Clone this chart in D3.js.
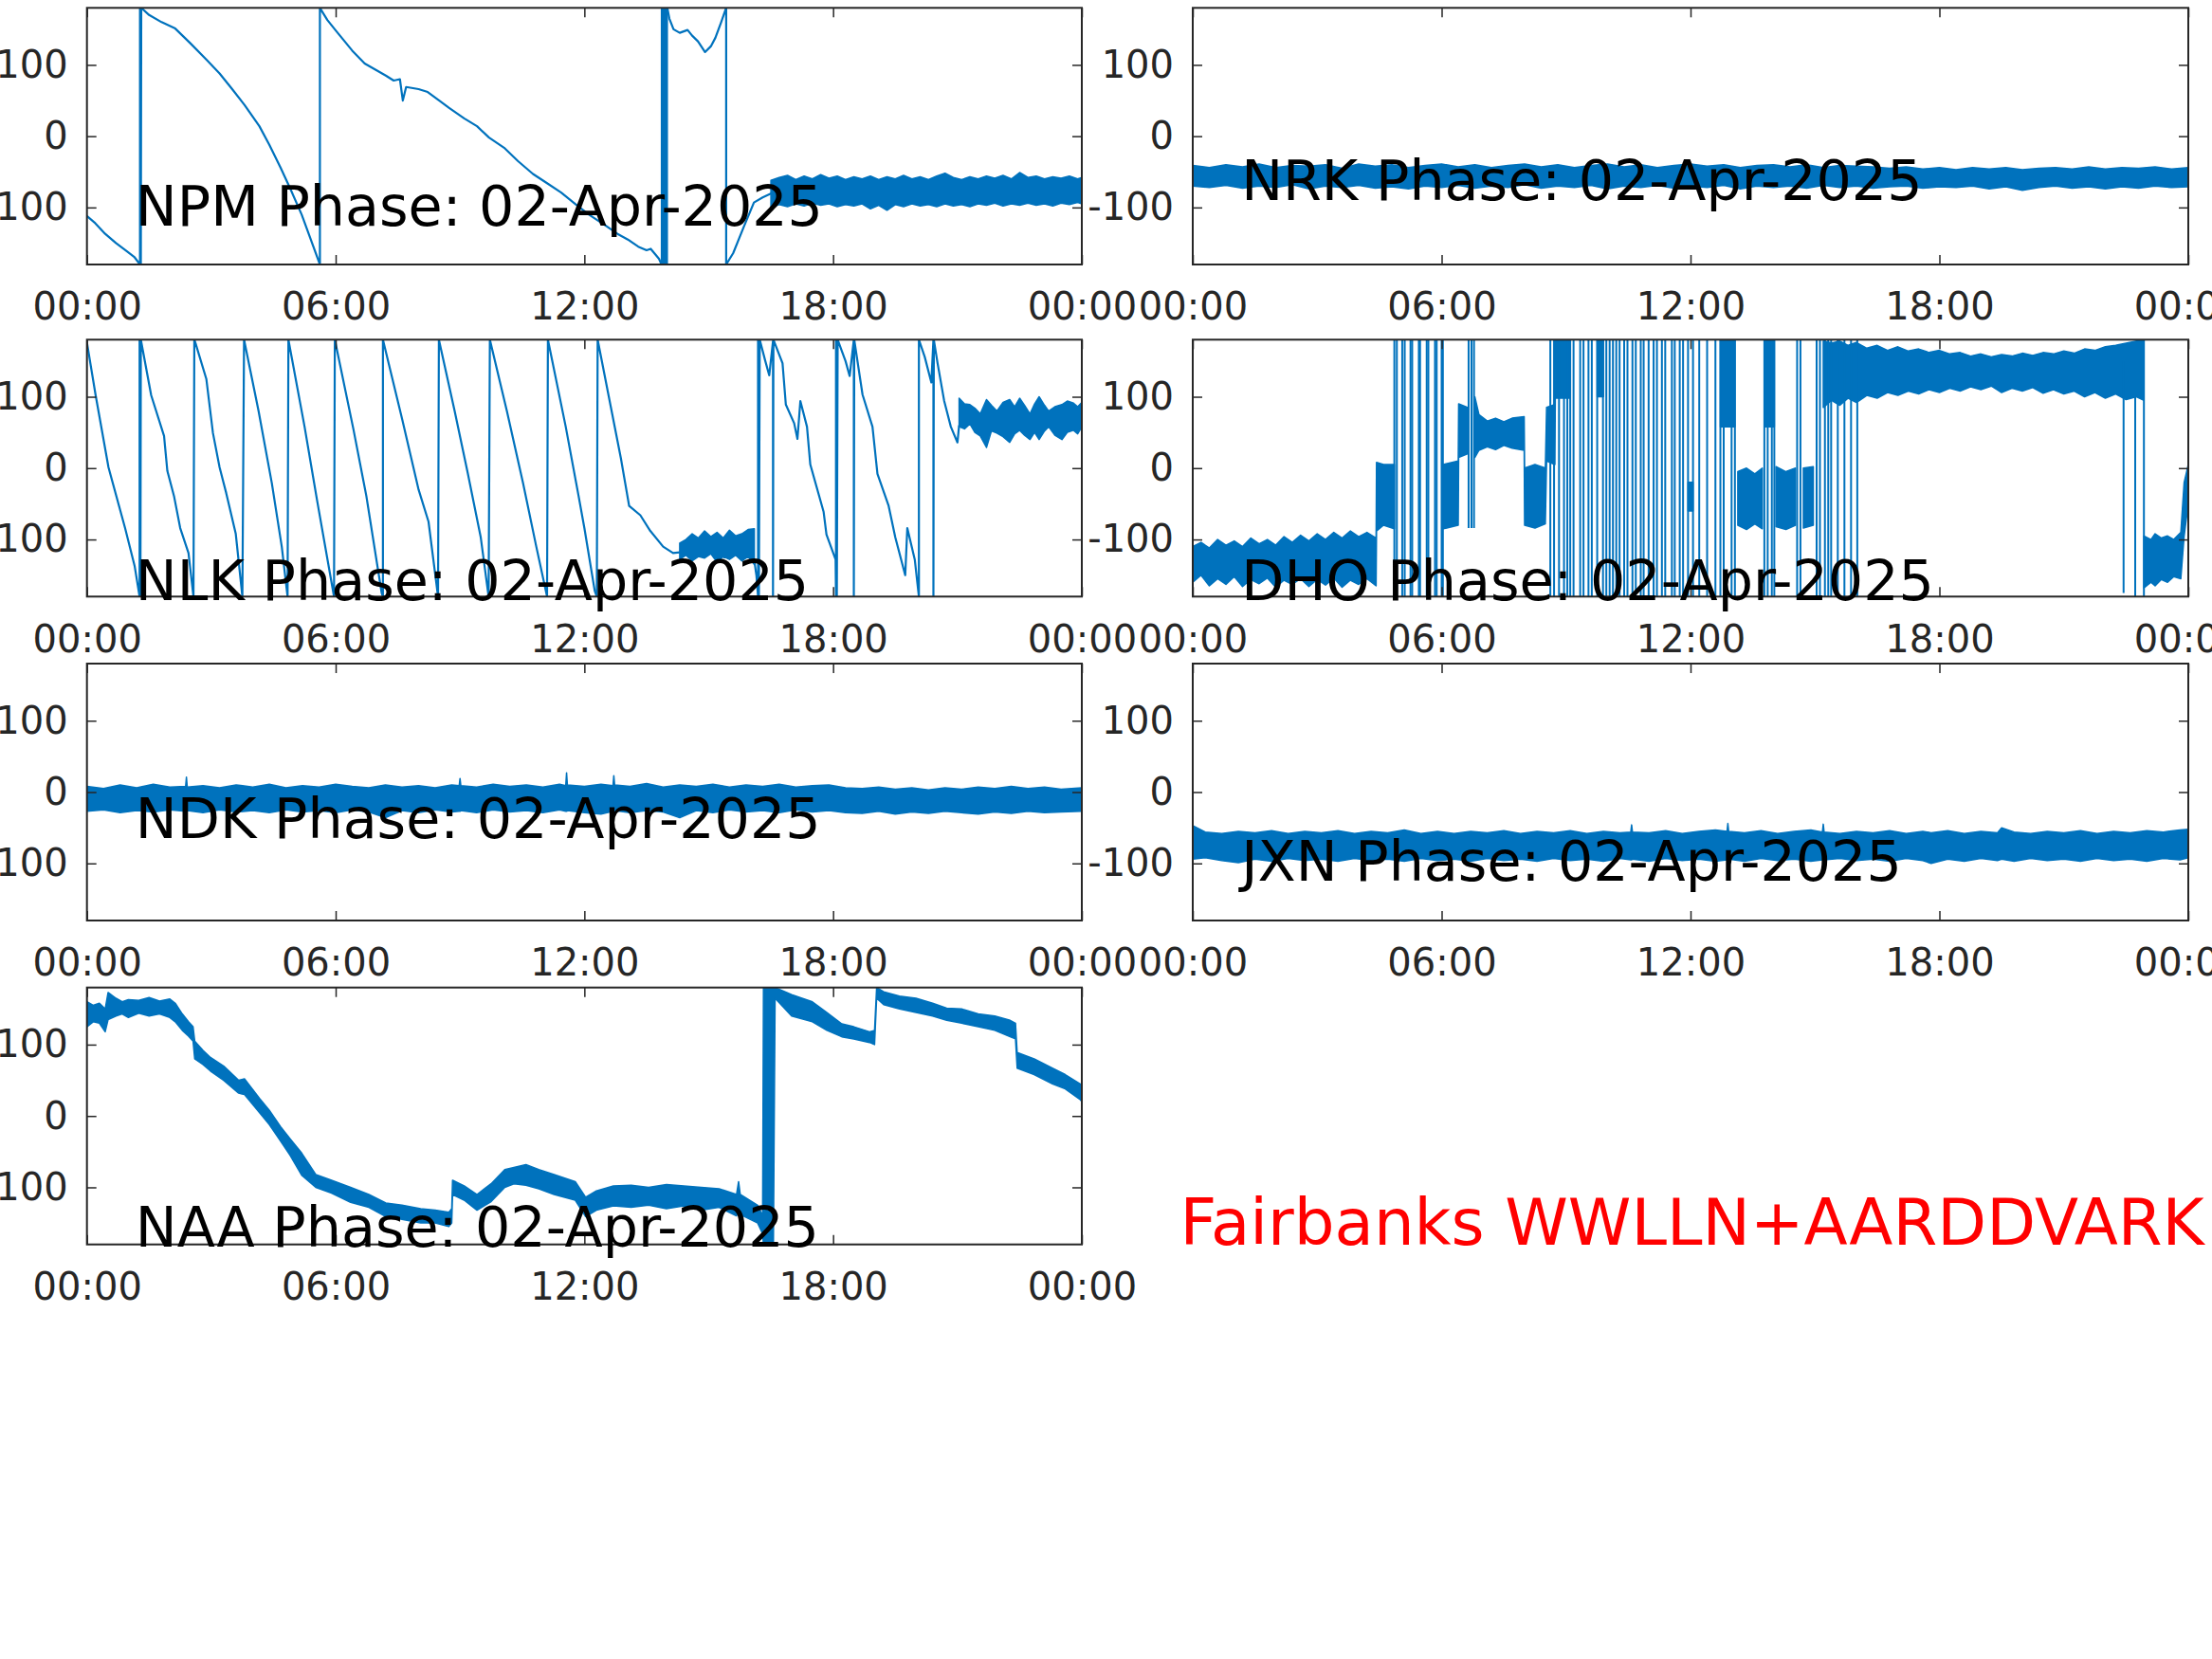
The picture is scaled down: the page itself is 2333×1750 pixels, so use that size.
<!DOCTYPE html>
<html><head><meta charset="utf-8">
<script src="https://cdn.jsdelivr.net/npm/d3@7"></script>
<style>body{margin:0;background:#fff}svg{display:block}</style></head>
<body>
<svg id="chart" width="2333" height="1750"></svg>
<script>
// ---------------- data (hours of day, phase in degrees) ----------------
const hourTicks = [0, 6, 12, 18, 24];
const hourTickLabels = ["00:00", "06:00", "12:00", "18:00", "00:00"];
const phaseTicks = [-100, 0, 100];
const phaseTickLabels = ["-100", "0", "100"];
const dateLabel = "02-Apr-2025";
const stations = ["NPM", "NRK", "NLK", "DHO", "NDK", "JXN", "NAA"];
const footerText = "Fairbanks WWLLN+AARDDVARK";

// NPM
const npmLineA = [[0,-112],[0.2,-122],[0.44,-137],[0.7,-150],[0.95,-161],[1.15,-170],[1.28,-180],[1.28,180],[1.3,-180],[1.31,180],[1.5,170],[1.8,160],[2.13,151],[2.5,130],[2.89,107],[3.2,88],[3.49,67],[3.8,44],[4.16,14],[4.4,-12],[4.67,-44],[4.9,-73],[5.18,-110],[5.4,-145],[5.62,-180],[5.62,180],[5.8,163],[6.02,147],[6.4,120],[6.7,102],[7.0,92],[7.21,85],[7.4,78],[7.55,80],[7.62,50],[7.7,69],[8.0,66],[8.22,62],[8.5,50],[8.73,40],[9.1,25],[9.41,14],[9.7,-2],[10.08,-17],[10.4,-35],[10.76,-53],[11.1,-66],[11.44,-79],[11.8,-96],[12.11,-110],[12.5,-125],[12.8,-137],[13.05,-145],[13.3,-155],[13.5,-160],[13.6,-158],[13.8,-172],[13.86,-180]];
const npmBlock = [[13.86,-180,180],[14.0,-180,180]];
const npmLineB = [[14.0,180],[14.05,165],[14.15,150],[14.3,145],[14.49,149],[14.6,141],[14.74,133],[14.91,118],[15.05,126],[15.16,138],[15.3,160],[15.42,180],[15.42,-180],[15.59,-164],[15.84,-128],[16.09,-93],[16.3,-86],[16.52,-80]];
const npmBand = [[16.5,-100,-62],[16.7,-96,-58],[16.9,-99,-55],[17.1,-95,-61],[17.3,-98,-56],[17.5,-94,-60],[17.7,-97,-54],[17.9,-95,-59],[18.1,-99,-56],[18.3,-96,-61],[18.5,-98,-57],[18.7,-95,-60],[18.9,-102,-56],[19.1,-97,-61],[19.3,-104,-57],[19.5,-96,-60],[19.7,-99,-55],[19.9,-95,-60],[20.1,-98,-57],[20.3,-96,-61],[20.5,-99,-56],[20.7,-95,-52],[20.9,-98,-58],[21.1,-96,-61],[21.3,-99,-57],[21.5,-95,-60],[21.7,-97,-56],[21.9,-94,-59],[22.1,-98,-55],[22.3,-95,-60],[22.5,-97,-51],[22.7,-94,-58],[22.9,-97,-56],[23.1,-95,-60],[23.3,-98,-57],[23.5,-94,-59],[23.7,-96,-56],[23.9,-93,-60],[24,-95,-58]];

// NRK
const nrkBand = [[0,-70,-41],[0.4,-72,-44],[0.8,-69,-40],[1.2,-73,-43],[1.6,-70,-39],[2.0,-72,-44],[2.4,-68,-41],[2.8,-74,-42],[3.2,-70,-40],[3.6,-72,-45],[4.0,-69,-39],[4.4,-73,-42],[4.8,-71,-40],[5.2,-74,-44],[5.6,-70,-41],[6.0,-72,-39],[6.4,-69,-43],[6.8,-73,-40],[7.2,-70,-44],[7.6,-72,-41],[8.0,-68,-39],[8.4,-73,-43],[8.8,-70,-40],[9.2,-72,-44],[9.6,-69,-41],[10.0,-74,-39],[10.4,-70,-43],[10.8,-72,-40],[11.2,-69,-44],[11.6,-73,-41],[12.0,-70,-39],[12.4,-72,-42],[12.8,-69,-40],[13.2,-74,-44],[13.6,-70,-41],[14.0,-72,-40],[14.4,-70,-43],[14.8,-73,-40],[15.2,-69,-44],[15.6,-72,-41],[16.0,-70,-42],[16.4,-73,-43],[16.8,-71,-45],[17.2,-70,-43],[17.6,-73,-46],[18.0,-71,-44],[18.4,-72,-47],[18.8,-70,-44],[19.2,-74,-46],[19.6,-71,-44],[20.0,-76,-47],[20.4,-72,-45],[20.8,-70,-44],[21.2,-73,-46],[21.6,-71,-43],[22.0,-74,-46],[22.4,-71,-44],[22.8,-73,-45],[23.2,-70,-43],[23.6,-72,-46],[24,-71,-44]];

// NLK
const nlkLineA = [[0,176],[0.21,102],[0.52,1],[0.92,-84],[1.15,-137],[1.27,-180],[1.27,180],[1.29,-180],[1.3,180],[1.55,102],[1.86,45],[1.94,-4],[2.1,-39],[2.25,-84],[2.45,-119],[2.57,-180],[2.59,180],[2.62,175],[2.88,125],[3.04,49],[3.2,1],[3.36,-35],[3.59,-92],[3.75,-180],[3.79,180],[4.14,80],[4.46,-21],[4.7,-110],[4.84,-180],[4.86,180],[5.25,58],[5.56,-48],[5.96,-180],[5.98,180],[6.43,54],[6.74,-39],[7.11,-175],[7.14,-180],[7.14,180],[7.61,67],[8.0,-30],[8.24,-75],[8.47,-180],[8.49,180],[8.87,80],[9.19,-8],[9.5,-97],[9.69,-180],[9.72,180],[10.13,80],[10.52,-21],[10.84,-110],[11.1,-180],[11.12,180],[11.55,58],[11.86,-39],[12.0,-84],[12.25,-172],[12.3,-180],[12.32,180],[12.64,85],[12.88,14],[13.08,-53],[13.35,-66],[13.59,-88],[13.9,-110],[14.14,-119],[14.3,-118]];
const nlkBandA = [[14.3,-128,-105],[14.45,-122,-100],[14.6,-130,-92],[14.75,-124,-98],[14.9,-126,-88],[15.05,-120,-96],[15.2,-132,-90],[15.35,-124,-98],[15.5,-128,-87],[15.65,-122,-95],[15.8,-130,-92],[15.95,-124,-86],[16.1,-135,-85]];
const nlkLineB = [[16.1,-130],[16.15,-150],[16.19,-180],[16.19,180],[16.21,-180],[16.23,180],[16.36,151],[16.46,130],[16.55,178],[16.55,-180],[16.56,180],[16.78,147],[16.86,89],[17.06,63],[17.14,41],[17.21,94],[17.37,58],[17.45,5],[17.77,-61],[17.84,-93],[18.06,-128],[18.07,-180],[18.07,180],[18.09,-180],[18.11,180],[18.3,150],[18.4,129],[18.48,170],[18.5,180],[18.5,-180],[18.51,180],[18.71,103],[18.95,58],[19.07,-8],[19.34,-53],[19.5,-97],[19.74,-150],[19.79,-84],[19.97,-128],[20.07,-180],[20.07,180],[20.21,156],[20.37,120],[20.42,180],[20.42,-180],[20.43,180],[20.52,147],[20.68,94],[20.84,58],[21.0,36],[21.04,60]];
const nlkBandB = [[21.04,58,98],[21.17,55,90],[21.3,62,89],[21.42,50,84],[21.55,45,76],[21.7,29,96],[21.82,52,88],[21.95,49,80],[22.1,44,92],[22.26,36,96],[22.38,48,86],[22.5,53,98],[22.62,46,88],[22.75,40,76],[22.86,50,90],[22.97,40,100],[23.1,52,88],[23.2,58,80],[23.35,46,86],[23.52,40,89],[23.65,50,94],[23.8,53,91],[23.9,48,86],[24,58,92]];

// DHO
const dhoBands = [
  [[0,-160,-110],[0.2,-150,-104],[0.4,-165,-112],[0.6,-155,-100],[0.8,-163,-108],[1.0,-152,-102],[1.2,-166,-110],[1.4,-156,-98],[1.6,-162,-106],[1.8,-154,-100],[2.0,-167,-108],[2.2,-157,-96],[2.4,-163,-104],[2.6,-155,-94],[2.8,-166,-102],[3.0,-156,-92],[3.2,-164,-100],[3.4,-154,-90],[3.6,-167,-98],[3.8,-157,-88],[4.0,-163,-96],[4.2,-155,-90],[4.42,-165,-98],[4.43,-88,8],[4.6,-80,5],[4.86,-85,5]],
  [[6.04,-85,5],[6.4,-80,10],[6.41,15,90],[6.62,20,85]],
  [[6.8,15,100],[6.9,25,75],[7.1,30,66],[7.3,26,70],[7.5,32,65],[7.7,28,70],[7.99,25,72],[8.0,-80,0],[8.25,-84,5],[8.5,-78,0],[8.53,10,85],[8.73,5,89],[8.74,98,180],[9.1,98,180]],
  [[9.75,100,180],[9.9,100,180]],
  [[11.94,-60,-20],[12.06,-60,-20]],
  [[12.72,58,180],[13.07,58,180]],
  [[13.14,-80,-5],[13.35,-86,0],[13.55,-78,-8],[13.73,-85,0]],
  [[13.78,58,180],[14.02,58,180]],
  [[14.06,-82,2],[14.3,-86,-5],[14.53,-80,0]],
  [[14.72,-84,0],[14.96,-80,2]],
  [[15.2,85,178],[15.4,95,175],[15.6,88,178],[15.8,98,172],[16.0,92,176],[16.25,102,168],[16.5,98,172],[16.75,106,165],[17.0,102,170],[17.25,108,164],[17.5,104,167],[17.75,110,162],[18.0,106,165],[18.25,112,160],[18.5,108,162],[18.75,114,157],[19.0,110,160],[19.25,115,156],[19.5,106,159],[19.75,112,157],[20.0,108,161],[20.25,113,158],[20.5,105,162],[20.75,110,160],[21.0,104,164],[21.25,108,161],[21.5,100,167],[21.75,106,165],[22.0,98,170],[22.25,104,172],[22.5,96,175],[22.75,100,178],[22.93,95,178]],
  [[22.93,-168,-95],[23.1,-160,-100],[23.2,-165,-92],[23.35,-156,-98],[23.5,-160,-95],[23.65,-152,-100],[23.82,-155,-90],[23.9,-95,-20],[24,-50,5]]
];
const dhoStrokes = [[4.86,-180,180],[4.92,-180,180],[5.05,-180,180],[5.11,-180,180],[5.25,-180,180],[5.29,-180,180],[5.45,-180,180],[5.48,-180,180],[5.64,-180,180],[5.68,-180,180],[5.84,-180,180],[5.88,-180,180],[6.0,-180,180],[6.03,-180,180],[6.65,-84,180],[6.72,-84,180],[6.78,-84,180],[8.62,-180,180],[8.71,-180,180],[8.83,-180,180],[8.95,-180,180],[9.03,-180,180],[9.10,-180,180],[9.18,-180,180],[9.34,-180,180],[9.42,-180,180],[9.54,-180,180],[9.62,-180,180],[9.75,-180,180],[9.89,-180,180],[9.97,-180,180],[10.05,-180,180],[10.13,-180,180],[10.21,-180,180],[10.29,-180,180],[10.40,-180,180],[10.48,-180,180],[10.60,-180,180],[10.68,-180,180],[10.80,-180,180],[10.87,-180,180],[10.99,-180,180],[11.11,-180,180],[11.19,-180,180],[11.31,-180,180],[11.39,-180,180],[11.55,-180,180],[11.62,-180,180],[11.74,-180,180],[11.82,-180,180],[11.94,-180,180],[12.06,-180,180],[12.21,-180,180],[12.40,-180,180],[12.60,-180,180],[12.72,-180,180],[12.80,-180,180],[12.99,-180,180],[13.07,-180,180],[13.78,-180,180],[13.86,-180,180],[13.96,-180,180],[14.02,-180,180],[14.57,-180,180],[14.65,-180,180],[15.04,-180,180],[15.12,-180,180],[15.24,-180,180],[15.32,-180,180],[15.39,-180,180],[15.55,-180,180],[15.71,-180,180],[15.87,-180,180],[16.02,-180,180],[22.44,-175,150],[22.72,-180,150],[22.93,-180,180]];

// NDK
const ndkBand = [[0,-27,8],[0.4,-25,5],[0.8,-29,10],[1.2,-26,6],[1.6,-28,11],[2.0,-25,7],[2.38,-27,8],[2.4,-27,21],[2.42,-26,7],[2.8,-29,9],[3.2,-25,6],[3.6,-28,10],[4.0,-26,7],[4.4,-29,11],[4.8,-25,6],[5.2,-28,9],[5.6,-26,7],[6.0,-29,11],[6.4,-25,8],[6.8,-28,6],[7.2,-36,10],[7.6,-26,7],[8.0,-29,9],[8.4,-25,6],[8.8,-28,10],[8.98,-27,9],[9.0,-27,19],[9.02,-26,9],[9.4,-29,7],[9.8,-25,11],[10.2,-28,8],[10.6,-26,10],[11.0,-29,7],[11.4,-25,11],[11.55,-27,9],[11.57,-27,27],[11.59,-26,10],[12.0,-29,8],[12.4,-31,11],[12.69,-27,9],[12.71,-27,23],[12.73,-26,10],[13.1,-29,8],[13.5,-26,12],[13.9,-28,7],[14.3,-36,10],[14.7,-26,8],[15.1,-29,11],[15.5,-25,7],[15.9,-28,10],[16.3,-26,8],[16.7,-29,11],[17.1,-25,7],[17.5,-28,9],[17.9,-26,10],[18.3,-29,6],[18.7,-30,5],[19.1,-27,7],[19.5,-31,4],[19.9,-28,6],[20.3,-30,3],[20.7,-27,6],[21.1,-29,4],[21.5,-31,7],[21.9,-28,5],[22.3,-30,8],[22.7,-27,5],[23.1,-29,7],[23.5,-28,4],[24,-27,6]];

// JXN
const jxnBand = [[0,-94,-47],[0.3,-92,-56],[0.7,-96,-58],[1.1,-99,-55],[1.5,-94,-57],[1.9,-97,-54],[2.3,-93,-58],[2.7,-96,-55],[3.1,-94,-57],[3.5,-97,-54],[3.9,-93,-58],[4.3,-96,-55],[4.7,-94,-57],[5.1,-97,-53],[5.5,-93,-58],[5.9,-96,-55],[6.3,-94,-58],[6.7,-97,-55],[7.1,-93,-57],[7.5,-96,-54],[7.9,-94,-58],[8.3,-97,-55],[8.7,-93,-57],[9.1,-96,-54],[9.5,-94,-58],[9.9,-97,-55],[10.3,-93,-57],[10.56,-95,-56],[10.58,-95,-46],[10.6,-94,-56],[11.0,-97,-57],[11.4,-93,-54],[11.8,-96,-58],[12.2,-94,-55],[12.6,-97,-53],[12.88,-95,-55],[12.9,-95,-44],[12.92,-94,-55],[13.3,-97,-57],[13.7,-93,-54],[14.1,-96,-58],[14.5,-94,-55],[14.9,-97,-53],[15.18,-95,-56],[15.2,-95,-45],[15.22,-95,-56],[15.6,-93,-58],[16.0,-96,-55],[16.4,-94,-57],[16.8,-97,-54],[17.2,-93,-58],[17.6,-96,-55],[17.8,-100,-57],[18.2,-94,-54],[18.6,-97,-58],[19.0,-93,-55],[19.4,-96,-57],[19.5,-94,-50],[19.8,-97,-56],[20.2,-93,-58],[20.6,-96,-55],[21.0,-94,-57],[21.4,-97,-54],[21.8,-93,-58],[22.2,-96,-55],[22.6,-94,-57],[23.0,-97,-54],[23.4,-93,-56],[23.8,-95,-53],[24,-92,-52]];

// NAA
const naaBand = [[0,125,160],[0.15,132,155],[0.3,130,158],[0.44,118,150],[0.51,135,173],[0.7,140,165],[0.85,143,160],[1.0,138,163],[1.25,144,162],[1.5,140,166],[1.75,143,161],[2.0,138,164],[2.13,132,158],[2.3,120,143],[2.45,112,132],[2.56,105,125],[2.6,80,105],[2.8,72,92],[2.98,63,82],[3.3,50,70],[3.66,32,50],[3.8,30,52],[4.16,5,25],[4.4,-12,8],[4.67,-35,-15],[4.9,-55,-32],[5.18,-83,-52],[5.52,-100,-82],[5.9,-108,-90],[6.36,-121,-100],[6.8,-128,-110],[7.21,-141,-122],[7.6,-145,-125],[8.05,-150,-130],[8.4,-150,-132],[8.73,-155,-135],[8.8,-150,-130],[8.82,-110,-90],[9.1,-118,-98],[9.41,-132,-110],[9.75,-120,-95],[10.08,-100,-75],[10.3,-95,-72],[10.59,-97,-68],[10.9,-102,-75],[11.27,-110,-82],[11.78,-118,-92],[12.03,-141,-114],[12.29,-132,-105],[12.7,-126,-98],[13.13,-128,-97],[13.55,-125,-100],[13.98,-130,-96],[14.4,-126,-98],[14.82,-132,-100],[15.25,-128,-102],[15.67,-140,-110],[15.72,-130,-92],[15.76,-138,-110],[16.18,-150,-125],[16.3,-165,-140],[16.32,-180,180],[16.56,-180,180],[16.6,165,180],[17.0,140,170],[17.5,132,160],[17.85,120,145],[18.21,111,129],[18.5,108,125],[18.88,103,118],[19.0,100,120],[19.05,165,180],[19.22,156,174],[19.6,150,168],[20.0,145,165],[20.4,140,158],[20.74,134,151],[21.1,130,150],[21.5,125,143],[21.9,120,140],[22.27,111,134],[22.4,108,130],[22.44,67,89],[22.85,58,80],[23.29,45,67],[23.6,38,58],[23.96,23,45],[24,20,42]];

// ---------------- layout ----------------
const colX = [[91.7, 1141], [1258, 2308]];
const rowY = [[8.3, 279], [358.3, 629.3], [700, 971], [1041.7, 1312.7]];
const blue = "#0072BD", axisColor = "#262626";
const font = "'DejaVu Sans', sans-serif";

const panels = [
  {name: stations[0], col: 0, row: 0, lines: [npmLineA, npmLineB], bands: [npmBlock, npmBand], strokes: [], titleY: -125},
  {name: stations[1], col: 1, row: 0, lines: [], bands: [nrkBand], strokes: [], titleY: -89},
  {name: stations[2], col: 0, row: 1, lines: [nlkLineA, nlkLineB], bands: [nlkBandA, nlkBandB], strokes: [], titleY: -185},
  {name: stations[3], col: 1, row: 1, lines: [], bands: dhoBands, strokes: dhoStrokes, titleY: -185},
  {name: stations[4], col: 0, row: 2, lines: [], bands: [ndkBand], strokes: [], titleY: -64},
  {name: stations[5], col: 1, row: 2, lines: [], bands: [jxnBand], strokes: [], titleY: -124},
  {name: stations[6], col: 0, row: 3, lines: [], bands: [naaBand], strokes: [], titleY: -183}
];

const svg = d3.select("#chart");
svg.append("rect").attr("width", 2333).attr("height", 1750).attr("fill", "#fff");

panels.forEach((p, i) => {
  const [x0, x1] = colX[p.col], [y0, y1] = rowY[p.row];
  const x = d3.scaleLinear().domain([0, 24]).range([x0, x1]);
  const y = d3.scaleLinear().domain([-180, 180]).range([y1, y0]);
  const g = svg.append("g");
  const clipId = "clip" + i;
  g.append("clipPath").attr("id", clipId).append("rect")
    .attr("x", x0).attr("y", y0).attr("width", x1 - x0).attr("height", y1 - y0);
  const plot = g.append("g").attr("clip-path", `url(#${clipId})`);

  const area = d3.area().x(d => x(d[0])).y0(d => y(d[1])).y1(d => y(d[2]));
  p.bands.forEach(b => plot.append("path").attr("d", area(b))
    .attr("fill", blue).attr("stroke", blue).attr("stroke-width", 1.5).attr("stroke-linejoin", "round"));
  const line = d3.line().x(d => x(d[0])).y(d => y(d[1]));
  p.lines.forEach(l => plot.append("path").attr("d", line(l))
    .attr("fill", "none").attr("stroke", blue).attr("stroke-width", 2.2).attr("stroke-linejoin", "round"));
  plot.selectAll("line.s").data(p.strokes).join("line").attr("class", "s")
    .attr("x1", d => x(d[0])).attr("x2", d => x(d[0]))
    .attr("y1", d => y(d[1])).attr("y2", d => y(d[2]))
    .attr("stroke", blue).attr("stroke-width", 2);

  // axes
  const styleAxis = sel => {
    sel.select(".domain").remove();
    sel.selectAll(".tick line").attr("stroke", axisColor).attr("stroke-width", 1.5);
    sel.selectAll(".tick text").attr("fill", axisColor).attr("font-family", font).attr("font-size", 40);
  };
  g.append("g").attr("transform", `translate(0,${y1})`)
    .call(d3.axisBottom(x).tickValues(hourTicks).tickFormat((d, k) => hourTickLabels[k])
      .tickSizeInner(-10).tickSizeOuter(0).tickPadding(30)).call(styleAxis);
  g.append("g").attr("transform", `translate(0,${y0})`)
    .call(d3.axisTop(x).tickValues(hourTicks).tickFormat("").tickSizeInner(-10).tickSizeOuter(0)).call(styleAxis);
  g.append("g").attr("transform", `translate(${x0},0)`)
    .call(d3.axisLeft(y).tickValues(phaseTicks).tickFormat((d, k) => phaseTickLabels[k])
      .tickSizeInner(-10).tickSizeOuter(0).tickPadding(20)).call(styleAxis);
  g.append("g").attr("transform", `translate(${x1},0)`)
    .call(d3.axisRight(y).tickValues(phaseTicks).tickFormat("").tickSizeInner(-10).tickSizeOuter(0)).call(styleAxis);
  g.append("rect").attr("x", x0).attr("y", y0).attr("width", x1 - x0).attr("height", y1 - y0)
    .attr("fill", "none").attr("stroke", axisColor).attr("stroke-width", 2);

  g.append("text").attr("x", x(1.17)).attr("y", y(p.titleY))
    .attr("font-family", font).attr("font-size", 58.7).attr("fill", "#000")
    .text(`${p.name} Phase: ${dateLabel}`);
});

svg.append("text").attr("x", 1244.5).attr("y", 1313)
  .attr("font-family", font).attr("font-size", 67.4).attr("fill", "#FF0000")
  .text(footerText);
</script>
</body></html>
